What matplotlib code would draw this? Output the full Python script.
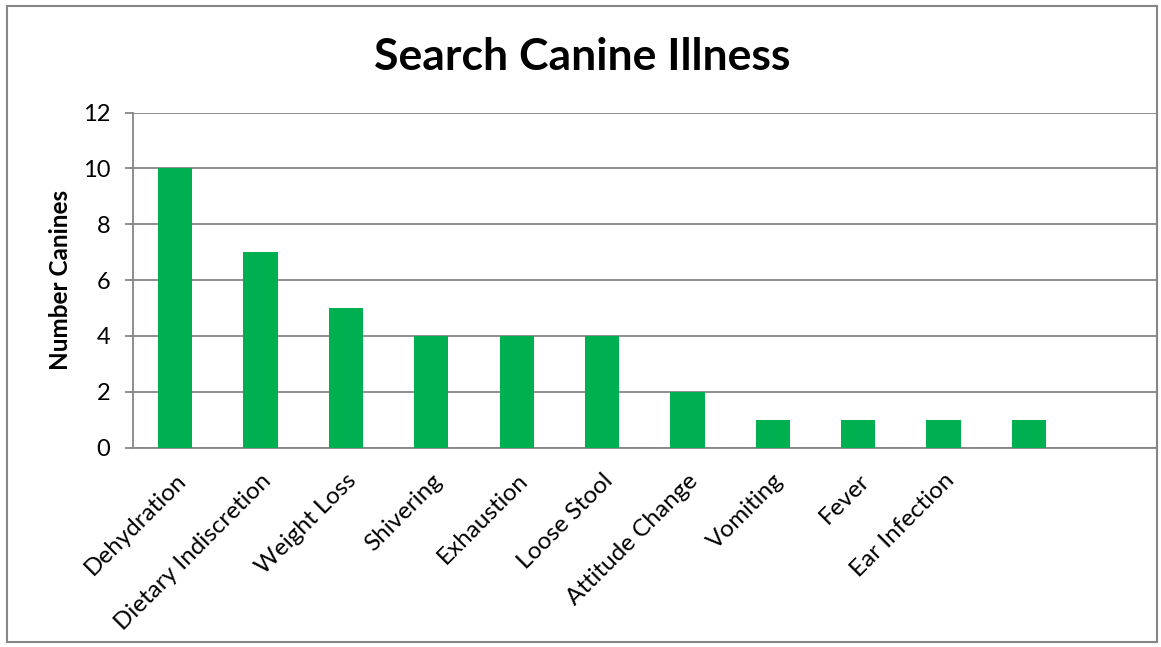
import matplotlib
matplotlib.use("Agg")
import matplotlib.pyplot as plt
from matplotlib.patches import Rectangle
import numpy as np

categories = ["Dehydration", "Dietary Indiscretion", "Weight Loss", "Shivering",
              "Exhaustion", "Loose Stool", "Attitude Change", "Vomiting", "Fever",
              "Ear Infection", "", ""]
values = [10, 7, 5, 4, 4, 4, 2, 1, 1, 1, 1, 0]
yticks = [0, 2, 4, 6, 8, 10, 12]

plt.rcParams['font.family'] = ['Lato', 'DejaVu Sans']
W, H = 1161, 647
fig = plt.figure(figsize=(W / 100, H / 100), dpi=100)
fig.patch.set_facecolor("white")

gray = "#868686"
green = "#00B050"

ax = fig.add_axes([132.5 / W, 1 - 447.7 / H, (1157 - 132.5) / W, (447.7 - 112.5) / H])
x = np.arange(len(categories))
ax.bar(x, values, width=0.4, color=green, zorder=3)
ax.set_xlim(-0.5, len(categories) - 0.5)
ax.set_ylim(0, 12)
ax.set_yticks(yticks)
ax.set_yticklabels([str(v) for v in yticks], fontsize=17)
ax.grid(axis="y", color=gray, linewidth=1.3, zorder=0)
ax.set_axisbelow(True)
for s in ["top", "right"]:
    ax.spines[s].set_visible(False)
for s in ["left", "bottom"]:
    ax.spines[s].set_color(gray)
    ax.spines[s].set_linewidth(1.3)
ax.tick_params(axis="y", length=6, width=1.3, color=gray, pad=10)
ax.tick_params(axis="x", length=0, pad=16)
ax.set_xticks(x)
ax.set_xticklabels(categories, rotation=45, ha="right", va="top",
                   rotation_mode="anchor", fontsize=17.5)
ax.set_ylabel("Number Canines", fontsize=17.5, fontweight="bold", labelpad=8)

fig.text(0.5015, 1 - 57 / H, "Search Canine Illness", ha="center", va="center",
         fontsize=32, fontweight="bold")

fig.patches.append(Rectangle((7 / W, 1 - 642 / H), 1150 / W, 636 / H,
                             transform=fig.transFigure, fill=False,
                             edgecolor=gray, linewidth=1.5))

fig.savefig("out.png", dpi=100, facecolor="white")
